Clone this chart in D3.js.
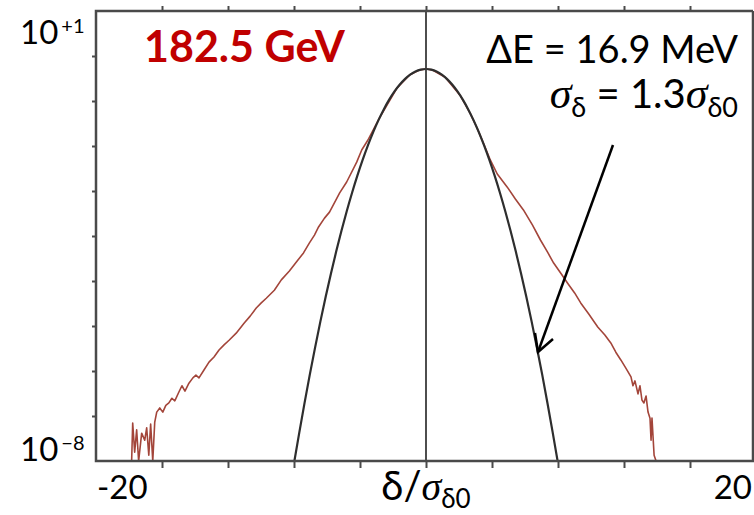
<!DOCTYPE html>
<html>
<head>
<meta charset="utf-8">
<script src="https://cdn.jsdelivr.net/npm/d3@7"></script>
<style>
  html, body { margin: 0; padding: 0; background: #fff; }
  svg { display: block; }
  text { font-family: Lato, "Open Sans", sans-serif; }
</style>
</head>
<body>
<svg id="chart" width="754" height="515"></svg>
<script>
// Momentum-deviation distribution, log scale
const xTicks = [-20, -15, -10, -5, 0, 5, 10, 15, 20];
const xEndLabels = ["-20", "20"];
const yEndLabels = [{ base: "10", exp: "+1" }, { base: "10", exp: "\u22128" }];

// Gaussian reference (sigma = 1.3 sigma_delta0)
const gaussX = [-9.97, -9.6, -9.2, -8.8, -8.4, -8.0, -7.6, -7.2, -6.8, -6.4, -6.0, -5.6, -5.2, -4.8, -4.4, -4.0,
  -3.6, -3.2, -2.8, -2.4, -2.0, -1.6, -1.2, -0.8, -0.4, 0, 0.4, 0.8, 1.2, 1.6, 2.0, 2.4, 2.8, 3.2, 3.6,
  4.0, 4.4, 4.8, 5.2, 5.6, 6.0, 6.4, 6.8, 7.2, 7.6, 8.0, 8.4, 8.8, 9.2, 9.6, 9.97];
const gaussY = [1e-8, 3.7e-8, 1.45e-7, 5.4e-7, 1.87e-6, 6.2e-6, 1.92e-5, 5.6e-5, 1.56e-4, 4.06e-4, 1.0e-3, 2.32e-3,
  5.09e-3, 0.0105, 0.0205, 0.0378, 0.0657, 0.1077, 0.1665, 0.243, 0.3345, 0.4345, 0.533, 0.616, 0.672, 0.692,
  0.672, 0.616, 0.533, 0.4345, 0.3345, 0.243, 0.1665, 0.1077, 0.0657, 0.0378, 0.0205, 0.0105, 5.09e-3, 2.32e-3,
  1.0e-3, 4.06e-4, 1.56e-4, 5.6e-5, 1.92e-5, 6.2e-6, 1.87e-6, 5.4e-7, 1.45e-7, 3.7e-8, 1e-8];

// Simulated distribution
const simX = [-22.30, -22.22, -22.07, -21.92, -21.77, -21.54, -21.31, -21.16, -21.00, -20.86, -20.70, -20.55,
  -20.40, -20.17, -19.94, -19.71, -19.48, -19.25, -19.03, -18.72, -18.49, -18.26, -17.96, -17.66, -17.43, -17.20,
  -16.82, -16.44, -16.06, -15.68, -15.30, -14.92, -14.38, -13.77, -13.32, -12.86, -12.48, -12.10, -11.49, -10.96,
  -10.35, -9.82, -9.28, -8.83, -8.45, -8.14, -7.69, -7.31, -6.54, -6.01, -5.25, -4.87, -4.41, -3.50, -2.21,
  -1.22, -0.46, 0, 0.46, 1.45, 2.59, 3.35, 3.88, 4.34, 4.87, 5.40, 6.16, 6.77, 7.38, 8.07, 8.68, 9.21, 9.67,
  10.20, 10.73, 11.26, 11.72, 12.33, 13.01, 13.55, 14.00, 14.38, 14.76, 15.14, 15.53, 15.68, 15.83, 16.06,
  16.21, 16.36, 16.51, 16.67, 16.82, 16.97, 17.05, 17.12, 17.28, 17.43];
const simY = [1e-8, 5.75e-8, 1.5e-8, 4.2e-8, 1e-8, 3.6e-8, 2.6e-8, 4.6e-8, 1.3e-8, 5.5e-8, 1e-8, 6.0e-8,
  9.5e-8, 1.15e-7, 9.5e-8, 1.3e-7, 1.45e-7, 1.8e-7, 1.6e-7, 2.4e-7, 3.2e-7, 2.5e-7, 3.6e-7, 4.6e-7, 5.2e-7, 4.6e-7,
  6.6e-7, 9.5e-7, 1.2e-6, 1.66e-6, 2.1e-6, 2.6e-6, 3.6e-6, 5.75e-6, 7.9e-6, 1.15e-5, 1.45e-5, 1.8e-5, 2.6e-5, 4.2e-5,
  6.3e-5, 9.5e-5, 1.45e-4, 2.3e-4, 3.3e-4, 4.8e-4, 7.2e-4, 9.5e-4, 2.3e-3, 3.8e-3, 9.5e-3, 0.0166, 0.026, 0.0746, 0.285,
  0.53, 0.665, 0.692, 0.665, 0.472, 0.205, 0.090, 0.045, 0.023, 0.0105, 5.5e-3, 3.0e-3, 1.74e-3, 1.05e-3, 5.2e-4,
  2.6e-4, 1.5e-4, 9.1e-5, 5.75e-5, 3.6e-5, 2.3e-5, 1.45e-5, 8.7e-6, 4.8e-6, 3.3e-6, 2.3e-6, 1.5e-6, 1.05e-6, 7.2e-7,
  4.8e-7, 3.2e-7, 4.0e-7, 2.2e-7, 3.2e-7, 1.66e-7, 1.45e-7, 2.0e-7, 9.5e-8, 7.2e-8, 2.6e-8, 7.2e-8, 1.3e-8, 1e-8];

(function () {
const svg = d3.select("#chart");
const pl = 96, pr = 753, pt = 11, pb = 461;
const serif = "Liberation Serif, DejaVu Serif, serif";

const x = d3.scaleLinear().domain([-25, 25]).range([96, 756]);
const y = d3.scaleLog().domain([1e-8, 1e1]).range([pb, pt]);

// minor ticks: ten equal steps along the log axis
const yTickVals = d3.range(1, 10).map(k => Math.pow(10, 1 - 0.9 * k));

const frame = "#4a4a4a";

// clip for data
svg.append("clipPath").attr("id", "plot").append("rect")
  .attr("x", pl).attr("y", pt).attr("width", pr - pl).attr("height", pb - pt);

// axes ticks
const bottomAxis = d3.axisBottom(x).tickValues(xTicks).tickSize(7).tickFormat("");
const topAxis = d3.axisTop(x).tickValues(xTicks).tickSize(5).tickFormat("");
const leftAxis = d3.axisLeft(y).tickValues(yTickVals).tickSize(4).tickFormat("");

function styleAxis(g) {
  g.select(".domain").remove();
  g.selectAll(".tick line").attr("stroke", frame).attr("stroke-width", 2);
}
svg.append("g").attr("transform", `translate(0,${pb})`).call(bottomAxis).call(styleAxis);
svg.append("g").attr("transform", `translate(0,${pt})`).call(topAxis).call(styleAxis);
svg.append("g").attr("transform", `translate(${pl},0)`).call(leftAxis).call(styleAxis);

// data curves
const plot = svg.append("g").attr("clip-path", "url(#plot)");
const lineSim = d3.line().x((d, i) => x(simX[i])).y((d, i) => y(simY[i]));
const lineGauss = d3.line().x((d, i) => x(gaussX[i])).y((d, i) => y(gaussY[i])).curve(d3.curveMonotoneX);

plot.append("path").datum(simX).attr("d", lineSim)
  .attr("fill", "none").attr("stroke", "#a3453a").attr("stroke-width", 1.6).attr("stroke-linejoin", "round");
plot.append("path").datum(gaussX).attr("d", lineGauss)
  .attr("fill", "none").attr("stroke", "#2e2e2e").attr("stroke-width", 2.2);

// centre line at zero
svg.append("line").attr("x1", x(0)).attr("x2", x(0)).attr("y1", pt).attr("y2", pb)
  .attr("stroke", "#3a3a3a").attr("stroke-width", 1.8);

// frame
svg.append("path")
  .attr("d", `M${pr},${pt}H${pl}V${pb}H${pr}V${pt}`)
  .attr("fill", "none").attr("stroke", frame).attr("stroke-width", 2.5);

// x end labels
svg.append("text").attr("x", pl + 1).attr("y", 499).attr("font-size", 33)
  .attr("text-anchor", "start").text(xEndLabels[0]);
svg.append("text").attr("x", 752).attr("y", 499).attr("font-size", 33)
  .attr("text-anchor", "end").text(xEndLabels[1]);

// x axis title: δ/σδ0
const xt = svg.append("text").attr("x", x(0)).attr("y", 500).attr("text-anchor", "middle").attr("font-size", 40);
xt.append("tspan").text("\u03b4/");
xt.append("tspan").attr("font-family", serif).attr("font-style", "italic").text("\u03c3");
xt.append("tspan").attr("font-size", 26).attr("dy", 8).text("\u03b40");

// y end labels
function powerLabel(lbl, yBase) {
  const t = svg.append("text").attr("x", 20).attr("y", yBase).attr("font-size", 33);
  t.append("tspan").text(lbl.base);
  t.append("tspan").attr("font-size", 20).attr("dx", 3).attr("dy", -11).text(lbl.exp);
}
powerLabel(yEndLabels[0], 44);
powerLabel(yEndLabels[1], 461);

// energy
svg.append("text").attr("x", 144).attr("y", 62).attr("font-size", 43).attr("font-weight", "bold")
  .attr("fill", "#c00000").text("182.5 GeV");

svg.append("text").attr("x", 738).attr("y", 63).attr("font-size", 38).attr("text-anchor", "end")
  .text("\u0394E = 16.9 MeV");

// sigma annotation
const st = svg.append("text").attr("x", 738).attr("y", 108).attr("font-size", 40).attr("text-anchor", "end");
st.append("tspan").attr("font-family", serif).attr("font-style", "italic").attr("font-size", 44).text("\u03c3");
st.append("tspan").attr("font-size", 27).attr("dy", 9).text("\u03b4");
st.append("tspan").attr("dy", -9).text(" = 1.3");
st.append("tspan").attr("font-family", serif).attr("font-style", "italic").attr("font-size", 44).text("\u03c3");
st.append("tspan").attr("font-size", 27).attr("dy", 9).text("\u03b40");

// arrow pointing to the Gaussian
const ax0 = 613, ay0 = 145, ax1 = 538, ay1 = 352;
svg.append("line").attr("x1", ax0).attr("y1", ay0).attr("x2", ax1).attr("y2", ay1)
  .attr("stroke", "#000").attr("stroke-width", 2.5);
svg.append("path").attr("d", `M535,333L${ax1},${ay1}L553,339`)
  .attr("fill", "none").attr("stroke", "#000").attr("stroke-width", 2.5);
})();
</script>
</body>
</html>
